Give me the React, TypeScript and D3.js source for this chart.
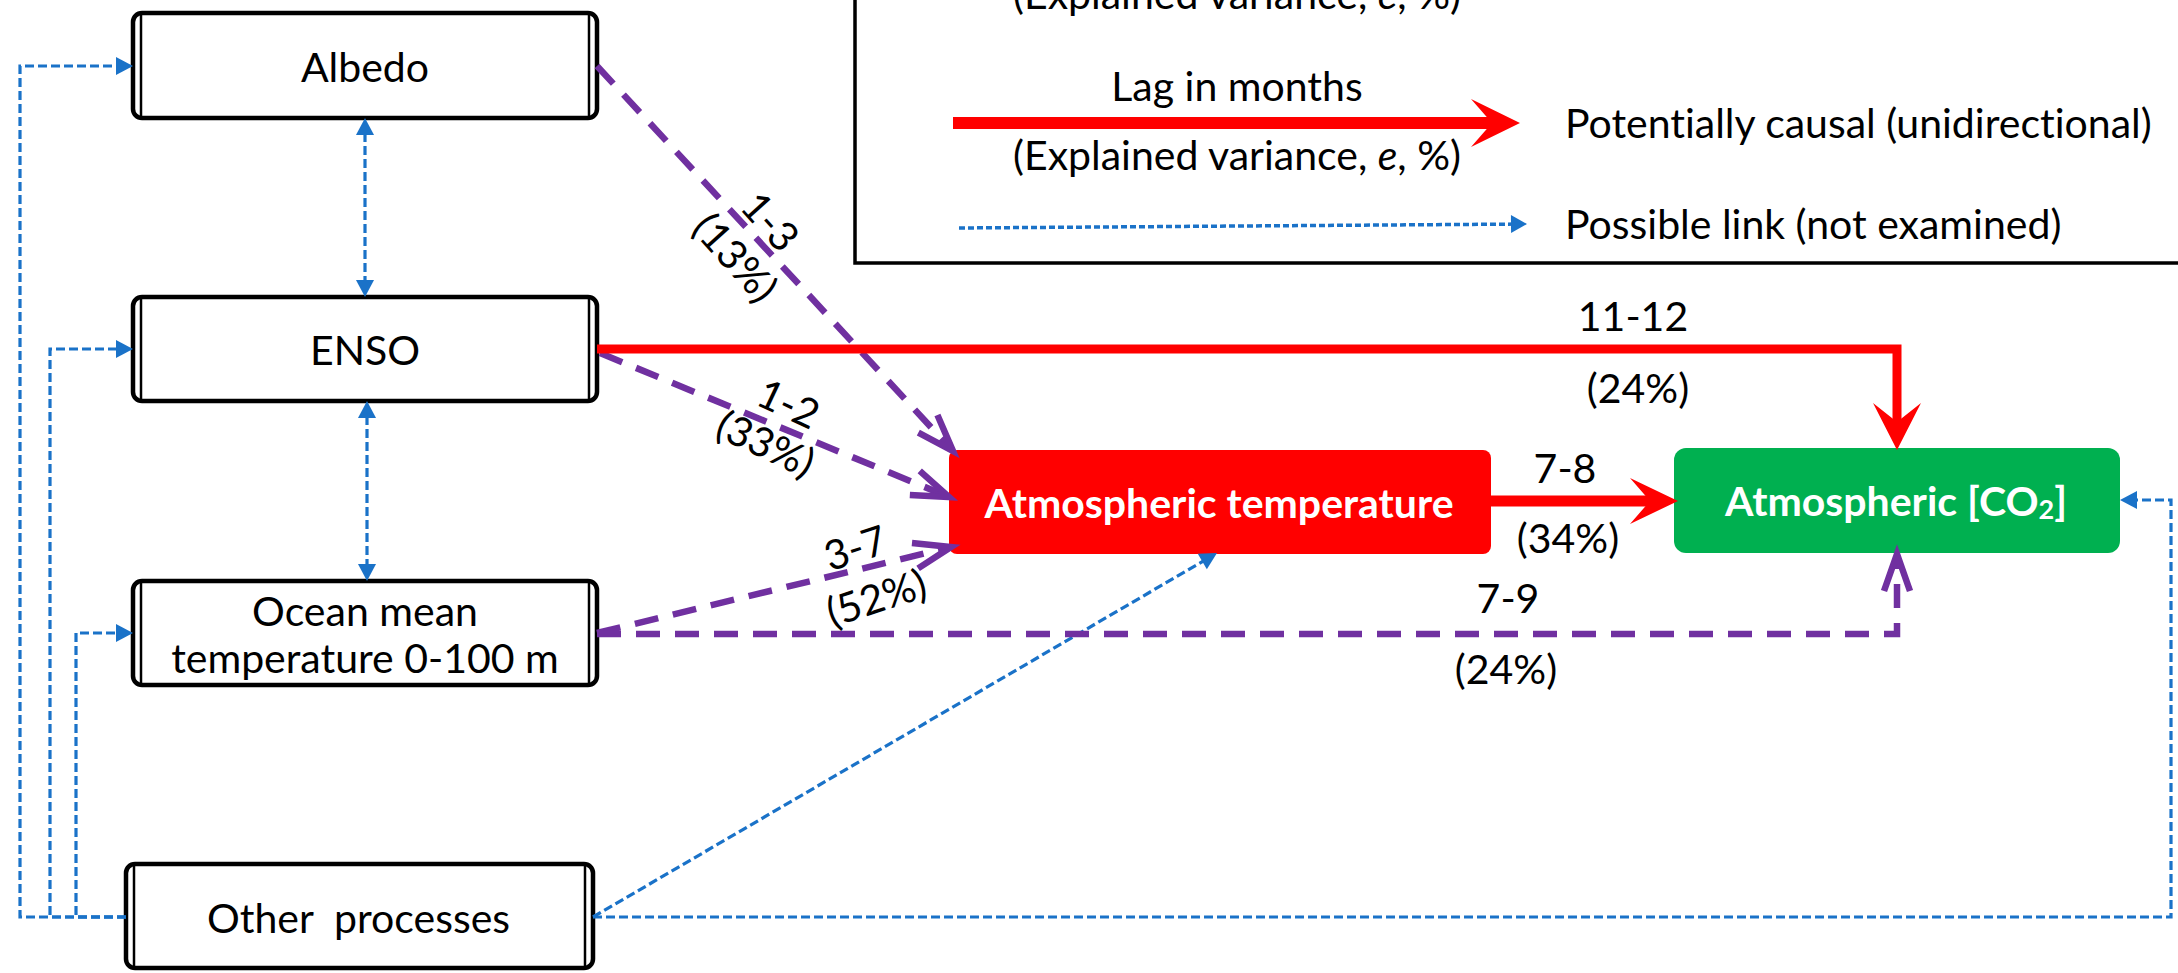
import React, { useEffect, useRef } from "react";
import * as d3 from "d3";

const W = 2178;
const H = 973;

// ---------- data (text content) ----------
const sourceNodes = ["Albedo", "ENSO", "Ocean mean|temperature 0-100 m", "Other  processes"];
const targetNodes = ["Atmospheric temperature", "Atmospheric [CO|2|]"];
const causalLags = ["11-12", "7-8"];
const causalVariance = ["(24%)", "(34%)"];
const dashedLags = ["1-3", "1-2", "3-7", "7-9"];
const dashedVariance = ["(13%)", "(33%)", "(52%)", "(24%)"];
const legendLag = "Lag in months";
const legendVariance = ["(Explained variance, ", "e", ", %)"];
const legendCausal = "Potentially causal (unidirectional)";
const legendPossible = "Possible link (not examined)";

// ---------- layout ----------
type P = [number, number];
const leftBoxes = [
  { x: 133, y: 13, w: 464, h: 105 },
  { x: 133, y: 297, w: 464, h: 104 },
  { x: 133, y: 581, w: 464, h: 104 },
  { x: 126, y: 864, w: 467, h: 104 },
];
const leftTextY = [[66], [349], [610, 657], [917]];
const targetBoxes = [
  { x: 949, y: 450, w: 542, h: 104, fill: "#ff0000", rx: 8, tx: 1219, ty: 502 },
  { x: 1674, y: 448, w: 446, h: 105, fill: "#00b050", rx: 12, tx: 1896, ty: 500 },
];
const blueLinks: { pts: P[]; both?: boolean }[] = [
  { pts: [[126, 917], [20, 917], [20, 66], [133, 66]] },
  { pts: [[126, 917], [50, 917], [50, 349], [133, 349]] },
  { pts: [[126, 917], [76, 917], [76, 633], [133, 633]] },
  { pts: [[365, 118], [365, 297]], both: true },
  { pts: [[367, 401], [367, 581]], both: true },
  { pts: [[593, 917], [1217, 553]] },
  { pts: [[593, 917], [2171, 917], [2171, 500], [2120, 500]] },
];
const redLinks: { pts: P[]; w: number; L: number; hw: number; N: number }[] = [
  { pts: [[597, 349], [1897, 349], [1897, 450]], w: 9, L: 47, hw: 24, N: 28 },
  { pts: [[1491, 501], [1678, 501]], w: 11, L: 48, hw: 23, N: 28 },
];
const purpleLinks: P[][] = [
  [[597, 66], [953, 451]],
  [[600, 353], [949, 497]],
  [[597, 633], [951, 547]],
  [[597, 634], [1897, 634], [1897, 554]],
];
const causalLabelPos = [
  { lag: [1633, 315], ev: [1638, 387] },
  { lag: [1565, 467], ev: [1568, 537] },
];
const dashedLabelPos = [
  { lag: [771, 221], ev: [736, 257], rot: 48 },
  { lag: [789, 403], ev: [766, 443], rot: 25 },
  { lag: [855, 547], ev: [876, 597], rot: -18 },
  { lag: [1508, 597], ev: [1506, 668], rot: 0 },
];

const FONT = "Lato, 'Open Sans', 'DejaVu Sans', sans-serif";
const RED = "#ff0000";
const PURPLE = "#7030a0";
const BLUE = "#1a72c8";
const FS = 41;
const NOLIG = "'liga' 0, 'clig' 0, 'dlig' 0";

function shortenEnd(pts: P[], d: number): P[] {
  const a = pts[pts.length - 2];
  const b = pts[pts.length - 1];
  const len = Math.hypot(b[0] - a[0], b[1] - a[1]);
  const k = (len - d) / len;
  return [...pts.slice(0, -1), [a[0] + (b[0] - a[0]) * k, a[1] + (b[1] - a[1]) * k]];
}
function shortenStart(pts: P[], d: number): P[] {
  return shortenEnd(pts.slice().reverse(), d).reverse();
}
function ang(a: P, b: P) {
  return (Math.atan2(b[1] - a[1], b[0] - a[0]) * 180) / Math.PI;
}

export default function App() {
  const ref = useRef<SVGSVGElement>(null);
  useEffect(() => {
    const svg = d3.select(ref.current);
    svg.selectAll("*").remove();
    const g = svg.append("g");
    const line = d3.line<P>();

    const text = (x: number, y: number, anchor = "middle") =>
      g.append("text")
        .attr("x", x).attr("y", y)
        .attr("text-anchor", anchor).attr("dominant-baseline", "central")
        .attr("font-family", FONT).attr("font-size", FS).attr("fill", "#000")
        .style("font-feature-settings", NOLIG)
        .style("font-variant-ligatures", "none");

    // ---------- legend box ----------
    g.append("rect")
      .attr("x", 855).attr("y", -30).attr("width", 1500).attr("height", 293)
      .attr("fill", "none").attr("stroke", "#000").attr("stroke-width", 3.5);

    const legendVar = (cy: number) => {
      const t = text(1237, cy);
      t.append("tspan").text(legendVariance[0]);
      t.append("tspan").attr("font-style", "italic").text(legendVariance[1]);
      t.append("tspan").text(legendVariance[2]);
    };
    legendVar(-7);
    text(1237, 85).text(legendLag);
    legendVar(154);
    text(1565, 122, "start").text(legendCausal);
    text(1565, 223, "start").text(legendPossible);

    // ---------- helpers ----------
    const triHead = (from: P, to: P, L = 17, hw = 9) => {
      g.append("path")
        .attr("d", `M0,0 L${-L},${-hw} L${-L},${hw} Z`)
        .attr("transform", `translate(${to[0]},${to[1]}) rotate(${ang(from, to)})`)
        .attr("fill", BLUE);
    };
    const stealth = (from: P, to: P, L: number, hw: number, N: number) => {
      g.append("path")
        .attr("d", `M0,0 L${-L},${-hw} L${-N},0 L${-L},${hw} Z`)
        .attr("transform", `translate(${to[0]},${to[1]}) rotate(${ang(from, to)})`)
        .attr("fill", RED);
    };
    const chevron = (from: P, to: P) => {
      g.append("path")
        .attr("d", `M-37,-13 L0,0 L-37,13`)
        .attr("transform", `translate(${to[0]},${to[1]}) rotate(${ang(from, to)})`)
        .attr("fill", "none").attr("stroke", PURPLE).attr("stroke-width", 6.5)
        .attr("stroke-linejoin", "miter").attr("stroke-miterlimit", 10);
    };

    // ---------- legend marks ----------
    const legArrow: P[] = [[953, 123], [1520, 123]];
    g.append("path").attr("d", line(shortenEnd(legArrow, 28)))
      .attr("stroke", RED).attr("stroke-width", 12).attr("fill", "none");
    stealth(legArrow[0], legArrow[1], 49, 24, 28);
    const legBlue: P[] = [[959, 228], [1527, 224]];
    g.append("path").attr("d", line(shortenEnd(legBlue, 14)))
      .attr("stroke", BLUE).attr("stroke-width", 3.5).attr("stroke-dasharray", "6,3").attr("fill", "none");
    triHead(legBlue[0], legBlue[1], 16, 9);

    // ---------- source boxes ----------
    leftBoxes.forEach((b, i) => {
      g.append("rect")
        .attr("x", b.x).attr("y", b.y).attr("width", b.w).attr("height", b.h)
        .attr("rx", 9).attr("fill", "#fff").attr("stroke", "#000").attr("stroke-width", 4.5);
      [b.x + 8, b.x + b.w - 8].forEach((x) => {
        g.append("line")
          .attr("x1", x).attr("x2", x).attr("y1", b.y + 2).attr("y2", b.y + b.h - 2)
          .attr("stroke", "#000").attr("stroke-width", 2.5);
      });
      const lines = sourceNodes[i].split("|");
      lines.forEach((s, j) => {
        text(b.x + b.w / 2 - (i === 3 ? 1 : 0), leftTextY[i][j])
          .style("white-space", "pre")
          .text(s);
      });
    });

    // ---------- target boxes ----------
    targetBoxes.forEach((b, i) => {
      g.append("rect")
        .attr("x", b.x).attr("y", b.y).attr("width", b.w).attr("height", b.h)
        .attr("rx", b.rx).attr("fill", b.fill);
      const parts = targetNodes[i].split("|");
      const t = text(b.tx, b.ty).attr("font-weight", "bold").attr("fill", "#fff");
      if (parts.length === 1) {
        t.text(parts[0]);
      } else {
        t.append("tspan").text(parts[0]);
        t.append("tspan").attr("font-size", 27).attr("dy", 8).text(parts[1]);
        t.append("tspan").attr("dy", -8).text(parts[2]);
      }
    });

    // ---------- blue possible links ----------
    blueLinks.forEach((l) => {
      let pts = shortenEnd(l.pts, 15);
      if (l.both) pts = shortenStart(pts, 15);
      g.append("path").attr("d", line(pts))
        .attr("fill", "none").attr("stroke", BLUE).attr("stroke-width", 3.2)
        .attr("stroke-dasharray", "9,4");
      const n = l.pts.length;
      triHead(l.pts[n - 2], l.pts[n - 1]);
      if (l.both) triHead(l.pts[1], l.pts[0]);
    });

    // ---------- purple dashed links ----------
    purpleLinks.forEach((pts) => {
      g.append("path").attr("d", line(shortenEnd(pts, 8)))
        .attr("fill", "none").attr("stroke", PURPLE).attr("stroke-width", 6.5)
        .attr("stroke-dasharray", "24,15");
      const n = pts.length;
      chevron(pts[n - 2], pts[n - 1]);
    });

    // ---------- red causal links ----------
    redLinks.forEach((l) => {
      g.append("path").attr("d", line(shortenEnd(l.pts, l.N)))
        .attr("fill", "none").attr("stroke", RED).attr("stroke-width", l.w)
        .attr("stroke-linejoin", "miter");
      const n = l.pts.length;
      stealth(l.pts[n - 2], l.pts[n - 1], l.L, l.hw, l.N);
    });

    // ---------- link labels ----------
    const label = (txt: string, p: number[], rot = 0) => {
      text(0, 0)
        .attr("transform", `translate(${p[0]},${p[1]}) rotate(${rot})`)
        .text(txt);
    };
    causalLags.forEach((s, i) => {
      label(s, causalLabelPos[i].lag);
      label(causalVariance[i], causalLabelPos[i].ev);
    });
    dashedLags.forEach((s, i) => {
      label(s, dashedLabelPos[i].lag, dashedLabelPos[i].rot);
      label(dashedVariance[i], dashedLabelPos[i].ev, dashedLabelPos[i].rot);
    });
  }, []);

  return (
    <svg
      ref={ref}
      width={W}
      height={H}
      style={{ position: "absolute", left: 0, top: 0, display: "block", background: "#fff" }}
    />
  );
}
